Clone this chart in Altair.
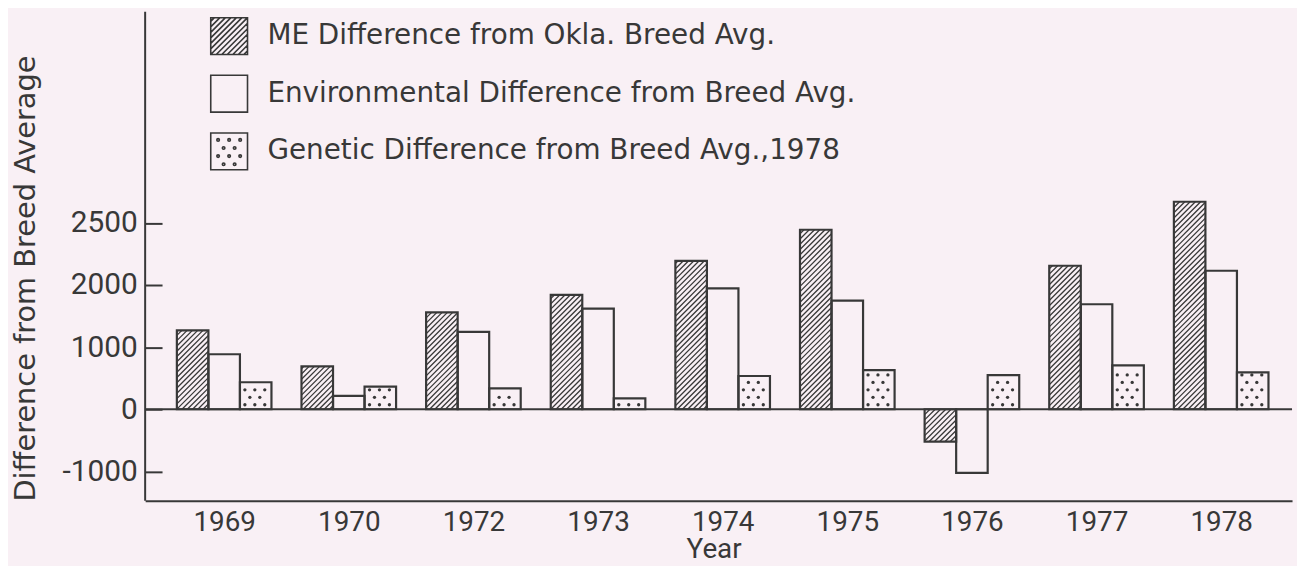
import math
import altair as alt
import pandas as pd

# ---------------- data ----------------
years = ["1969", "1970", "1972", "1973", "1974", "1975", "1976", "1977", "1978"]
me_diff = [1270, 690, 1560, 1840, 2390, 2890, -520, 2310, 3340]
env_diff = [885, 215, 1245, 1620, 1945, 1750, -1025, 1690, 2230]
gen_diff = [435, 365, 335, 175, 535, 630, 550, 705, 595]
series_names = [
    "ME Difference from Okla. Breed Avg.",
    "Environmental Difference from Breed Avg.",
    "Genetic Difference from Breed Avg.,1978",
]
y_ticks = [-1000, 0, 1000, 2000, 3000]
y_tick_labels = ["-1000", "0", "1000", "2000", "2500"]

# ---------------- layout / style ----------------
INK = "#383838"
BG = "#f9f0f5"
FONT = "Roboto"
FONT2 = "DejaVu Sans"
W, H = 1154, 492
STEP = 125.4              # px per year group
X_MIN = -0.634
X_MAX = X_MIN + W / STEP
Y_MIN, Y_MAX = -1472, 6400
PPU = H / (Y_MAX - Y_MIN)  # px per unit
BW = 0.253                # bar width in group units

series_vals = [me_diff, env_diff, gen_diff]

bars = []
for g, yr in enumerate(years):
    for k, name in enumerate(series_names):
        x0 = g + (k - 1.5) * BW
        bars.append({"x": x0, "x2": x0 + BW, "y": 0, "y2": series_vals[k][g],
                     "series": name, "year": yr})
bars_df = pd.DataFrame(bars)


def px_x(u):
    return (u - X_MIN) * STEP


def u_x(p):
    return p / STEP + X_MIN


# hatch lines for ME bars (45 degrees in pixel space)
S = 5.3
hatch = []
for g, v in enumerate(me_diff):
    xl, xr = px_x(g - 1.5 * BW), px_x(g - 0.5 * BW)
    yb, yt = min(0, v) * PPU, max(0, v) * PPU
    k0 = math.floor((xl - yt) / S)
    k1 = math.ceil((xr - yb) / S)
    for k in range(k0, k1 + 1):
        c = k * S
        lo = max(xl, yb + c)
        hi = min(xr, yt + c)
        if hi - lo > 0.5:
            hatch.append({"x": u_x(lo), "x2": u_x(hi),
                          "y": (lo - c) / PPU, "y2": (hi - c) / PPU})
hatch_df = pd.DataFrame(hatch)

# stipple dots for genetic bars
dots = []
for g, v in enumerate(gen_diff):
    xl, xr = px_x(g + 0.5 * BW), px_x(g + 1.5 * BW)
    yt = v * PPU
    r, py = 0, 4.5
    while py < yt - 2.5:
        px = xl + 5 + (r % 2) * 5
        while px < xr - 3:
            dots.append({"x": u_x(px), "y": py / PPU})
            px += 10
        r += 1
        py += 7.5
dots_df = pd.DataFrame(dots)

# legend symbol paths (unit square)
square = "M-1,-1L1,-1L1,1L-1,1Z"
hp = [square]
c = -1.8
while c < 1.81:
    x1, x2 = max(-1.0, c - 1.0), min(1.0, c + 1.0)
    if x2 - x1 > 0.05:
        hp.append(f"M{x1:.3f},{c - x1:.3f}L{x2:.3f},{c - x2:.3f}")
    c += 0.3
hatch_path = "".join(hp)
dp = [square]
rr = 0.07
for i, yy in enumerate([-0.62, -0.18, 0.26, 0.7]):
    xs = [-0.6, 0.0, 0.6] if i % 2 == 0 else [-0.3, 0.3]
    for xx in xs:
        dp.append(f"M{xx - rr:.3f},{yy:.3f}a{rr},{rr} 0 1,0 {2 * rr},0a{rr},{rr} 0 1,0 {-2 * rr},0")
dots_path = "".join(dp)

legend_df = pd.DataFrame({"series": series_names, "x": [0, 0, 0], "y": [0, 0, 0]})

year_arr = "[" + ",".join(f"'{y}'" for y in years) + "]"
ytick_arr = "[" + ",".join(str(t) for t in y_ticks) + "]"
ylab_arr = "[" + ",".join(f"'{t}'" for t in y_tick_labels) + "]"

xscale = alt.Scale(domain=[X_MIN, X_MAX], nice=False, zero=False)
yscale = alt.Scale(domain=[Y_MIN, Y_MAX], nice=False, zero=False)

x_axis = alt.Axis(values=list(range(len(years))), labelExpr=f"{year_arr}[datum.value]",
                  ticks=False, tickSize=0, grid=False, domain=True, domainColor=INK,
                  domainWidth=2, labelFont=FONT, labelFontSize=28, labelColor=INK,
                  labelBaseline="alphabetic", labelPadding=30,
                  title="Year", titleFont=FONT, titleFontSize=28, titleColor=INK,
                  titleFontWeight="normal", titleBaseline="alphabetic", titleY=57, titleX=572)
y_axis = alt.Axis(values=y_ticks, labelExpr=f"{ylab_arr}[indexof({ytick_arr}, datum.value)]",
                  offset=-17, tickSize=17, tickWidth=2, tickColor=INK, domain=False, grid=False,
                  labelFont=FONT, labelFontSize=30, labelColor=INK, labelPadding=8,
                  labelBaseline="middle",
                  title="Difference from Breed Average", titleFont=FONT2, titleFontSize=29,
                  titleColor=INK, titleFontWeight="normal", titleAngle=270,
                  titleBaseline="middle", titleAlign="center", titleX=-137, titleY=268)

hatch_layer = alt.Chart(hatch_df).mark_rule(color=INK, strokeWidth=1.3).encode(
    x=alt.X("x:Q", scale=xscale, axis=x_axis),
    x2="x2:Q",
    y=alt.Y("y:Q", scale=yscale, axis=y_axis),
    y2="y2:Q",
)

dots_layer = alt.Chart(dots_df).mark_circle(color=INK, size=11, opacity=1).encode(
    x=alt.X("x:Q", scale=xscale), y=alt.Y("y:Q", scale=yscale)
)

bars_layer = alt.Chart(bars_df).mark_rect(color=INK, fillOpacity=0, stroke=INK, strokeWidth=2.2).encode(
    x=alt.X("x:Q", scale=xscale), x2="x2:Q",
    y=alt.Y("y:Q", scale=yscale), y2="y2:Q",
)

zero_layer = alt.Chart(pd.DataFrame({"y": [0]})).mark_rule(color=INK, strokeWidth=2).encode(
    y=alt.Y("y:Q", scale=yscale)
)

left_line = alt.Chart(pd.DataFrame({"x": [X_MIN]})).mark_rule(color=INK, strokeWidth=2).encode(
    x=alt.X("x:Q", scale=xscale)
)

legend_layer = alt.Chart(legend_df).mark_point(color=INK, opacity=0, filled=False, strokeWidth=1.5).encode(
    x=alt.X("x:Q", scale=xscale), y=alt.Y("y:Q", scale=yscale),
    shape=alt.Shape("series:N",
                    scale=alt.Scale(domain=series_names, range=[hatch_path, square, dots_path]),
                    legend=alt.Legend(title=None, orient="none", legendX=65, legendY=5,
                                      symbolSize=1369, symbolStrokeWidth=1.6,
                                      symbolStrokeColor=INK, symbolFillColor="transparent",
                                      symbolOpacity=1, labelFont=FONT2, labelFontSize=28,
                                      labelColor=INK, labelOffset=19, rowPadding=13,
                                      padding=0, labelLimit=900)),
)

chart = alt.layer(hatch_layer, dots_layer, bars_layer, zero_layer, left_line, legend_layer).properties(
    width=W, height=H,
    autosize=alt.AutoSizeParams(type="none"),
    padding={"left": 138, "top": 2, "right": 5, "bottom": 64},
    background=BG,
).configure_view(stroke=None)

chart.save("out.html", embed_options={"renderer": "svg", "actions": False})
